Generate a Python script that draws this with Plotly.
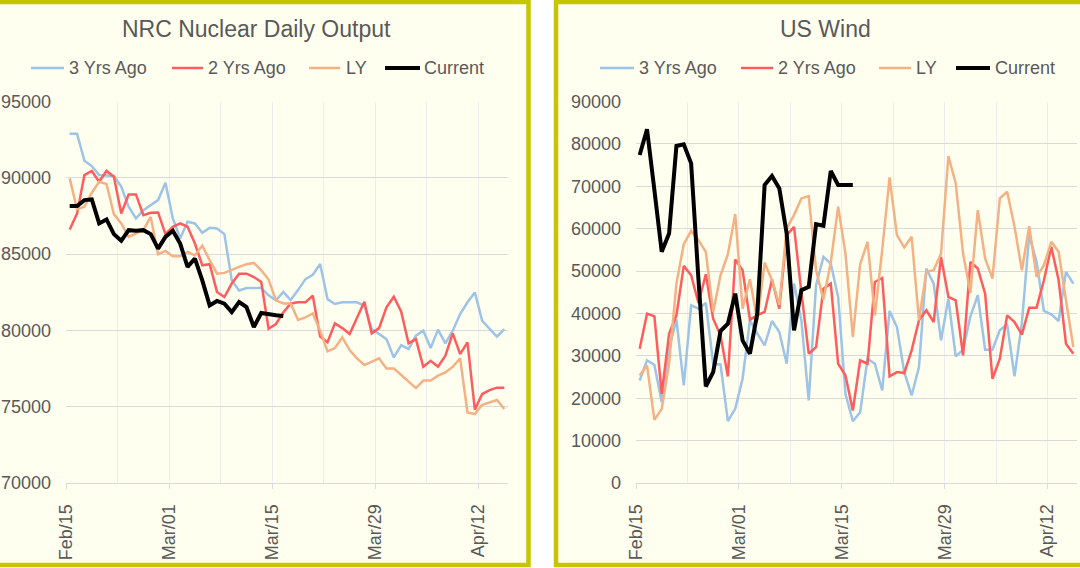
import pandas as pd
import plotly.graph_objects as go

W, H = 1080, 568

# ---------------- data ----------------
dates = pd.date_range("2021-02-15", periods=60, freq="D")

nuc_3yrs = [92880, 92880, 91120, 90770, 90180, 90140, 90120, 89420, 88100, 87340,
            87880, 88210, 88540, 89680, 87340, 86020, 87120, 87010, 86390, 86720,
            86680, 86310, 83280, 82620, 82780, 82780, 82780, 82300, 81970, 82520,
            81990, 82640, 83360, 83650, 84350, 82050, 81730, 81840, 81840, 81840,
            81620, 80090, 79760, 79430, 78230, 79040, 78780, 79650, 79980, 78850,
            80050, 79150, 79980, 81070, 81840, 82490, 80630, 80090, 79590, 80090]
nuc_2yrs = [86610, 87660, 90180, 90450, 89740, 90450, 90070, 87660, 88910, 88910,
            87550, 87710, 87730, 86310, 86790, 87010, 86790, 85690, 84270, 84340,
            82520, 82190, 83070, 83720, 83720, 83500, 83170, 80110, 80420, 81180,
            81770, 81840, 81840, 82270, 79590, 79220, 80460, 80150, 79760, 80850,
            81880, 79810, 80150, 81510, 82210, 81220, 79150, 79430, 77620, 78010,
            77620, 78340, 79810, 78450, 79220, 74810, 75830, 76090, 76250, 76250]
nuc_ly = [89960, 87950, 88100, 89020, 89740, 89590, 87620, 87010, 86130, 86350,
          86570, 87440, 84990, 85210, 84860, 84860, 85150, 84910, 85560, 84600,
          83720, 83770, 83940, 84160, 84340, 84420, 83940, 83330, 81970, 81770,
          81770, 80680, 80850, 81110, 79980, 78630, 78840, 79540, 78710, 78170,
          77730, 77970, 78170, 77510, 77510, 77080, 76640, 76220, 76710, 76710,
          77030, 77250, 77620, 78170, 74630, 74520, 75130, 75310, 75440, 74850]
nuc_cur = [88150, 88150, 88540, 88580, 87010, 87270, 86310, 85870, 86570, 86530,
           86570, 86310, 85360, 86130, 86530, 85690, 84160, 84710, 83280, 81640,
           81930, 81750, 81200, 81860, 81530, 80220, 81140, 81050, 80990, 80940]

wind_3yrs = [24190, 28920, 27900, 19070, 31680, 38610, 23010, 41920, 41130, 42470,
             28130, 27970, 14580, 17490, 24590, 38380, 35220, 32470, 38220, 35620,
             28130, 47040, 38380, 19460, 46650, 53350, 51770, 43890, 21040, 14580,
             16710, 29310, 28130, 21830, 40580, 36800, 26160, 20650, 27340, 50590,
             47040, 33650, 43500, 29870, 31440, 39320, 44290, 31440, 31440, 36010,
             37430, 25140, 37750, 58470, 52170, 40580, 39790, 38220, 49800, 47040]
wind_2yrs = [31680, 39950, 39320, 21040, 35220, 39560, 51220, 49010, 42470, 49250,
             38770, 34830, 25140, 52720, 50200, 38530, 39560, 40350, 47990, 41130,
             58470, 60440, 45000, 30500, 32070, 45860, 47040, 28130, 25370, 17100,
             28920, 28130, 47440, 48380, 25140, 26160, 25930, 31280, 38380, 40740,
             37980, 53350, 43890, 43100, 30100, 52170, 50590, 44680, 24590, 29310,
             39560, 37980, 34990, 41370, 41370, 47830, 55710, 47830, 32860, 30500]
wind_ly = [25370, 27740, 14890, 17490, 28130, 47040, 56340, 59490, 57290, 54530,
           40350, 49010, 53980, 63430, 41130, 48070, 38380, 52010, 47830, 42000,
           60050, 63200, 67140, 67690, 50200, 43260, 52000, 65170, 54140, 34440,
           51610, 56890, 39560, 55000, 72100, 58470, 55550, 58080, 38380, 49800,
           50200, 54140, 77150, 70680, 54140, 44840, 64380, 52950, 48230, 67140,
           68710, 60440, 50200, 60600, 48620, 51380, 56890, 54530, 43100, 32070]
wind_cur = [77380, 83450, 69110, 54530, 58860, 79510, 79900, 75410, 48000, 22770,
            26160, 35850, 37590, 44680, 33650, 30500, 39950, 70290, 72420, 69500,
            58860, 36010, 45470, 46260, 61070, 60680, 73600, 70290, 70290, 70290]

series_names = ["3 Yrs Ago", "2 Yrs Ago", "LY", "Current"]
titles = ["NRC Nuclear Daily Output", "US Wind"]
major_ticks = ["2021-02-15", "2021-03-01", "2021-03-15", "2021-03-29", "2021-04-12"]
minor_ticks = ["2021-02-22", "2021-03-08", "2021-03-22", "2021-04-05"]

# ---------------- style ----------------
colors = ["#9DC3E6", "#FF5D5D", "#F4B183", "#000000"]
widths = [2.5, 2.5, 2.5, 4]
FONT = "Liberation Sans, Arial, sans-serif"
TXT = "#595959"
BORDER = "#C6C600"
PANEL = "#FFFFF0"

def px(x):
    return x / W

def py(y):
    return 1 - y / H

x_mid = dates + pd.Timedelta(hours=12)

fig = go.Figure()

panels = [
    dict(data=[nuc_3yrs, nuc_2yrs, nuc_ly, nuc_cur], xa="x", ya="y"),
    dict(data=[wind_3yrs, wind_2yrs, wind_ly, wind_cur], xa="x2", ya="y2"),
]
for p in panels:
    for name, vals, c, w in zip(series_names, p["data"], colors, widths):
        fig.add_trace(go.Scatter(
            x=x_mid[:len(vals)], y=vals, name=name, mode="lines",
            line=dict(color=c, width=w), xaxis=p["xa"], yaxis=p["ya"],
            showlegend=False, hoverinfo="skip"))

x_common = dict(
    type="date", range=["2021-02-15", "2021-04-16"], automargin=False,
    tickvals=major_ticks, tickformat="%b/%d", tickangle=-90,
    ticks="outside", ticklen=5, tickcolor="#D9D9D9",
    showgrid=True, gridcolor="#EDEDED", gridwidth=1,
    minor=dict(tickvals=minor_ticks, showgrid=True, gridcolor="#EDEDED", ticks=""),
    showline=True, linecolor="#D9D9D9", linewidth=1,
    zeroline=False, ticklabelstandoff=8,
    tickfont=dict(family=FONT, size=18, color=TXT),
)
y_common = dict(
    showgrid=True, gridcolor="#D9D9D9", gridwidth=1, zeroline=False, automargin=False,
    ticks="", showline=False, tickformat="d", ticklabelstandoff=14,
    tickfont=dict(family=FONT, size=18, color=TXT),
)

ybot, ytop = py(483), py(101.5)
fig.update_layout(
    width=W, height=H,
    margin=dict(l=0, r=0, t=0, b=0, autoexpand=False),
    paper_bgcolor="white", plot_bgcolor="rgba(0,0,0,0)",
    xaxis=dict(domain=[px(66), px(508)], anchor="y", **x_common),
    xaxis2=dict(domain=[px(636), px(1077)], anchor="y2", **x_common),
    yaxis=dict(domain=[ybot, ytop], anchor="x", range=[70000, 95000], dtick=5000, **y_common),
    yaxis2=dict(domain=[ybot, ytop], anchor="x2", range=[0, 90000], dtick=10000, **y_common),
    showlegend=False,
)

shapes = []
# panel frames
shapes.append(dict(type="rect", xref="paper", yref="paper", layer="below",
                   x0=px(-10), x1=px(528.5), y0=py(565), y1=py(2),
                   fillcolor=PANEL, line=dict(color=BORDER, width=4.5)))
shapes.append(dict(type="rect", xref="paper", yref="paper", layer="below",
                   x0=px(556), x1=px(1095), y0=py(565), y1=py(2),
                   fillcolor=PANEL, line=dict(color=BORDER, width=4.5)))

annotations = []
# titles
for t, cx in zip(titles, [256, 825]):
    annotations.append(dict(text=t, x=px(cx), y=py(29), xref="paper", yref="paper",
                            xanchor="center", yanchor="middle", showarrow=False,
                            font=dict(family=FONT, size=23, color=TXT)))

# legends (sample line + label)
leg_y = py(68)
leg_left = [(31, 64, 67), (172, 203, 206), (309, 340, 344), (385, 420, 422)]
leg_right = [(600, 634, 637), (741, 773, 776), (879, 911, 914), (956, 990, 993)]
for items in (leg_left, leg_right):
    for (x0, x1, xt), name, c, w in zip(items, series_names, colors, widths):
        shapes.append(dict(type="line", xref="paper", yref="paper",
                           x0=px(x0), x1=px(x1), y0=leg_y, y1=leg_y,
                           line=dict(color=c, width=w)))
        annotations.append(dict(text=name, x=px(xt), y=leg_y, xref="paper", yref="paper",
                                xanchor="left", yanchor="middle", showarrow=False,
                                font=dict(family=FONT, size=18, color=TXT)))

fig.update_layout(shapes=shapes, annotations=annotations)
fig.write_html(
    "out.html",
    config={"displayModeBar": False},
    post_script="document.body.style.margin='0';document.body.style.overflow='hidden';",
)
